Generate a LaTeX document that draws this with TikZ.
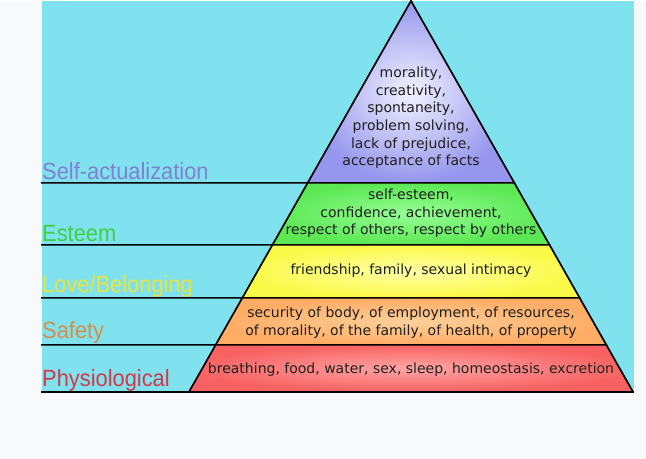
\documentclass[tikz,border=0pt]{standalone}
\usepackage{fontspec}
\setmainfont{DejaVu Sans}
\newfontfamily\levelfont[FakeStretch=0.93]{Liberation Sans}
\usetikzlibrary{calc}

\definecolor{pageback}{RGB}{248,249,250}
\definecolor{skyback}{RGB}{128,226,238}
\definecolor{selfcol}{RGB}{128,128,210}
\definecolor{esteemcol}{RGB}{64,208,64}
\definecolor{lovecol}{RGB}{232,228,60}
\definecolor{safetycol}{RGB}{212,142,72}
\definecolor{physcol}{RGB}{210,56,70}

\begin{document}
\begin{tikzpicture}[x=1pt,y=-1pt]
\tikzset{edge/.style = {draw=black, line width=1.7pt, line cap=rect},
  need/.style = {font=\fontsize{14}{17.7}\selectfont, align=center, text=black!88, inner sep=0pt},
  level/.style = {font=\levelfont\fontsize{23.5}{23.5}\selectfont, anchor=base west, inner sep=0pt}}
\def\leftx{42}
\def\toph{391}

% page and sky
\fill[pageback] (0,0) rectangle (646,458);
\fill[skyback] (\leftx,0) rectangle (634,392);

% pyramid corners
\coordinate (T) at (411,0);
\coordinate (L) at (189,\toph);
\coordinate (R) at (633,\toph);

\path ($(T)!182/\toph!(L)$) coordinate (L1) ($(T)!182/\toph!(R)$) coordinate (R1);
\path ($(T)!244/\toph!(L)$) coordinate (L2) ($(T)!244/\toph!(R)$) coordinate (R2);
\path ($(T)!297/\toph!(L)$) coordinate (L3) ($(T)!297/\toph!(R)$) coordinate (R3);
\path ($(T)!344/\toph!(L)$) coordinate (L4) ($(T)!344/\toph!(R)$) coordinate (R4);

\coordinate (S1) at (\leftx,182);
\coordinate (S2) at (\leftx,244);
\coordinate (S3) at (\leftx,297);
\coordinate (S4) at (\leftx,344);
\coordinate (S5) at (\leftx,\toph);

% tiers
\shade[inner color={rgb,255:red,242;green,242;blue,255}, outer color={rgb,255:red,150;green,150;blue,238}] (T) -- (R1) -- (L1) -- cycle;
\shade[inner color={rgb,255:red,150;green,255;blue,150}, outer color={rgb,255:red,92;green,232;blue,84}] (L1) -- (R1) -- (R2) -- (L2) -- cycle;
\shade[inner color={rgb,255:red,255;green,255;blue,165}, outer color={rgb,255:red,250;green,250;blue,72}] (L2) -- (R2) -- (R3) -- (L3) -- cycle;
\shade[inner color={rgb,255:red,255;green,208;blue,155}, outer color={rgb,255:red,255;green,172;blue,100}] (L3) -- (R3) -- (R4) -- (L4) -- cycle;
\shade[inner color={rgb,255:red,255;green,165;blue,165}, outer color={rgb,255:red,248;green,98;blue,98}] (L4) -- (R4) -- (R) -- (L) -- cycle;

% outline and level lines
\draw[edge] (L) -- (T) -- (R);
\draw[edge] (S1) -- (R1);
\draw[edge] (S2) -- (R2);
\draw[edge] (S3) -- (R3);
\draw[edge] (S4) -- (R4);
\draw[edge] (S5) -- (R);

% needs
\node[need] (selfneeds) at (411,117) {morality,\\creativity,\\spontaneity,\\problem solving,\\lack of prejudice,\\acceptance of facts};
\node[need] (esteemneeds) at (411,212.5) {self-esteem,\\confidence, achievement,\\respect of others, respect by others};
\node[need] (loveneeds) at (411,270) {friendship, family, sexual intimacy};
\node[need] (safetyneeds) at (411,321.5) {security of body, of employment, of resources,\\of morality, of the family, of health, of property};
\node[need] (physneeds) at (411,369) {breathing, food, water, sex, sleep, homeostasis, excretion};

% level names
\node[level, text=selfcol] (selflabel) at (\leftx,178.5) {Self-actualization};
\node[level, text=esteemcol] (esteemlabel) at (\leftx,241) {Esteem};
\node[level, text=lovecol] (lovelabel) at (\leftx,291.5) {Love/Belonging};
\node[level, text=safetycol] (safetylabel) at (\leftx,338) {Safety};
\node[level, text=physcol] (physlabel) at (\leftx,385.5) {Physiological};
\end{tikzpicture}
\end{document}
